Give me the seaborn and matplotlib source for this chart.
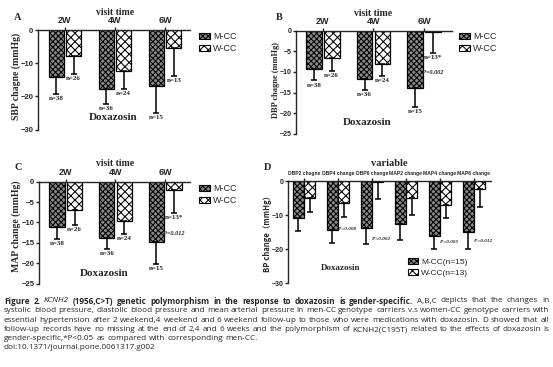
import numpy as np
import pandas as pd
import seaborn as sns
import matplotlib.pyplot as plt
from matplotlib.patches import Patch

# values (mmHg), error = length of the downward bar
weeks = ['2W', '4W', '6W']
groups = ['M-CC', 'W-CC']

sbp_m = [-14.3, -17.7, -16.8]
sbp_m_err = [4.9, 4.5, 8.2]
sbp_w = [-7.7, -12.5, -5.5]
sbp_w_err = [5.6, 5.2, 8.5]

dbp_m = [-9.3, -11.8, -13.8]
dbp_m_err = [2.7, 2.6, 4.6]
dbp_w = [-6.7, -8.2, -0.25]
dbp_w_err = [3.0, 2.8, 5.05]

map_m = [-11.0, -13.9, -14.9]
map_m_err = [3.0, 2.6, 5.2]
map_w = [-6.9, -9.6, -2.0]
map_w_err = [3.6, 3.1, 5.6]

n_m = ['n=38', 'n=36', 'n=15']
n_w = ['n=26', 'n=24', 'n=13']
n_w_star = ['n=26', 'n=24', 'n=13*']

vars_d = ['DBP2 chagne', 'DBP4 change', 'DBP6 change', 'MAP2 change', 'MAP4 change', 'MAP6 change']
d_m = [-10.75, -14.4, -13.9, -12.7, -16.1, -14.9]
d_m_err = [3.95, 3.9, 4.7, 4.6, 3.9, 5.1]
d_w = [-5.1, -6.5, -0.4, -5.1, -7.0, -2.2]
d_w_err = [4.1, 4.0, 4.9, 4.9, 3.9, 5.5]
d_p = ['', 'P=0.008', 'P=0.002', '', 'P=0.005', 'P=0.012']
d_p_y = [0, -14.1, -17.1, 0, -17.8, -17.5]

sns.set_style('ticks')
plt.rcParams['font.family'] = ['Liberation Serif', 'DejaVu Serif']
plt.rcParams['hatch.linewidth'] = 0.75
plt.rcParams['axes.linewidth'] = 1.0

W, H = 553, 367
fig = plt.figure(figsize=(W / 100, H / 100), dpi=100)
SANS = 'Liberation Sans'
hatches = ['xxxxxx', 'xxxx']
colors = ['#8a8a8a', 'white']


def px(x, y):
    return x / W, 1 - y / H


def axes_px(l, t, r, b):
    return fig.add_axes([l / W, 1 - b / H, (r - l) / W, (b - t) / H])


def draw_bars(ax, cats, m, m_err, w, w_err, width, gap):
    df = pd.DataFrame({'cat': cats + cats,
                       'group': [groups[0]] * len(cats) + [groups[1]] * len(cats),
                       'change': m + w})
    sns.barplot(data=df, x='cat', y='change', hue='group', order=cats, hue_order=groups,
                palette=colors, width=width, gap=gap, errorbar=None,
                edgecolor='black', linewidth=0.9, legend=False, ax=ax)
    centers = []
    for cont, hatch, vals, errs in zip(ax.containers, hatches, [m, w], [m_err, w_err]):
        xs = []
        for bar in cont:
            bar.set_hatch(hatch)
            xs.append(bar.get_x() + bar.get_width() / 2)
        ax.errorbar(xs, vals, yerr=[errs, np.zeros(len(errs))], fmt='none', ecolor='black',
                    elinewidth=1.1, capsize=2.5, capthick=1.1, zorder=1)
        centers.append(xs)
    return centers


def style_axes(ax, ylim, yticks, xlim, xsize=6.5, ysize=5.5):
    ax.set_ylim(*ylim)
    ax.set_yticks(yticks)
    ax.set_xlim(*xlim)
    ax.xaxis.tick_top()
    ax.spines['bottom'].set_visible(False)
    ax.spines['right'].set_visible(False)
    ax.tick_params(axis='both', width=1, length=2.5, pad=0.8)
    ax.set_xlabel('')
    ax.set_ylabel('')
    for lbl in ax.get_yticklabels():
        lbl.set_fontfamily(SANS)
        lbl.set_fontweight('bold')
        lbl.set_fontsize(ysize)
    for lbl in ax.get_xticklabels():
        lbl.set_fontfamily(SANS)
        lbl.set_fontweight('bold')
        lbl.set_fontsize(xsize)


def add_legend(ax, labels, x, y, size=6.5):
    handles = [Patch(facecolor=c, edgecolor='black', hatch=h, linewidth=0.8)
               for c, h in zip(colors, hatches)]
    ax.legend(handles, labels, loc='upper left', bbox_to_anchor=px(x, y),
              bbox_transform=fig.transFigure, frameon=False, borderpad=0,
              borderaxespad=0, handlelength=1.2, handleheight=0.7, handletextpad=0.4,
              labelspacing=0.35, prop={'family': SANS, 'size': size})


def ftext(x, y, s, size=7.5, **kw):
    fig.text(*px(x, y), s, fontsize=size, fontweight='bold', ha='center', va='center', **kw)


def n_labels(ax, centers, m, m_err, w, w_err, lab_m, lab_w):
    for xs, vals, errs, labs in zip(centers, [m, w], [m_err, w_err], [lab_m, lab_w]):
        for x, v, e, s in zip(xs, vals, errs, labs):
            ax.text(x, v - e - 0.6, s, ha='center', va='top', fontsize=5, fontweight='bold')


# A: SBP
axA = axes_px(38, 30, 190, 129.5)
cA = draw_bars(axA, weeks, sbp_m, sbp_m_err, sbp_w, sbp_w_err, 0.7, 0.12)
style_axes(axA, (-30, 0), [0, -10, -20, -30], (-0.54, 2.5))
n_labels(axA, cA, sbp_m, sbp_m_err, sbp_w, sbp_w_err, n_m, n_w)
add_legend(axA, groups, 199, 32)
ftext(18, 18, 'A', 7.5)
ftext(115, 12.5, 'visit time', 7)
ftext(113, 118, 'Doxazosin', 8)
ftext(16, 76, 'SBP chagne (mmHg)', 7, rotation=90)

# B: DBP
axB = axes_px(296, 30.7, 452, 133.7)
cB = draw_bars(axB, weeks, dbp_m, dbp_m_err, dbp_w, dbp_w_err, 0.7, 0.12)
style_axes(axB, (-25, 0), [0, -5, -10, -15, -20, -25], (-0.53, 2.55), ysize=5)
n_labels(axB, cB, dbp_m, dbp_m_err, dbp_w, dbp_w_err, n_m, n_w_star)
axB.text(cB[1][2], -10.2, 'P=0.002', ha='center', va='center', fontsize=4.5,
         fontweight='bold', fontstyle='italic')
add_legend(axB, groups, 459, 32)
ftext(279, 18, 'B', 7.5)
ftext(373, 13, 'visit time', 7)
ftext(367, 123, 'Doxazosin', 8)
ftext(275.5, 80, 'DBP chagne (mmHg)', 6, rotation=90)

# C: MAP
axC = axes_px(39, 181.7, 190, 283.7)
cC = draw_bars(axC, weeks, map_m, map_m_err, map_w, map_w_err, 0.7, 0.12)
style_axes(axC, (-25, 0), [0, -5, -10, -15, -20, -25], (-0.54, 2.5))
n_labels(axC, cC, map_m, map_m_err, map_w, map_w_err, n_m, n_w_star)
axC.text(cC[1][2], -12.8, 'P=0.012', ha='center', va='center', fontsize=4.5,
         fontweight='bold', fontstyle='italic')
add_legend(axC, groups, 199, 184)
ftext(18, 168, 'C', 7.5)
ftext(115, 164, 'visit time', 7)
ftext(104, 273, 'Doxazosin', 8)
ftext(16, 226, 'MAP change (mmHg)', 7, rotation=90)

# D: 6-week summary
axD = axes_px(288, 181, 491, 283.3)
cD = draw_bars(axD, vars_d, d_m, d_m_err, d_w, d_w_err, 0.65, 0.08)
style_axes(axD, (-30, 0), [0, -10, -20, -30], (-0.47, 5.5), xsize=3.6, ysize=5)
for bar, s, y in zip(axD.containers[0], d_p, d_p_y):
    if s:
        axD.text(bar.get_x() + bar.get_width() + 0.02, y, s, ha='left', va='center',
                 fontsize=3.8, fontweight='bold', fontstyle='italic')
add_legend(axD, ['M-CC(n=15)', 'W-CC(n=13)'], 408, 258, size=6)
ftext(268, 168, 'D', 7.5)
ftext(389, 164, 'variable')
ftext(341, 268, 'Doxazosin', 6.5)
ftext(267, 232, 'BP change（mmHg）', 5.5,
      rotation=90, family=['Noto Sans CJK SC', 'Liberation Serif'])

# caption, set word by word so the first lines are justified
renderer = fig.canvas.get_renderer()
CAP_FS = 5.9
CAP_FONT = 'Open Sans'


def put_line(words, y, justify=True):
    texts = []
    for s, wt, st in words:
        texts.append(fig.text(0, 1 - y / H, s, fontsize=CAP_FS, fontweight=wt, fontstyle=st,
                              family=CAP_FONT, ha='left', va='center'))
    widths = [t.get_window_extent(renderer).width for t in texts]
    if justify and len(texts) > 1:
        gap = (549 - 4 - sum(widths)) / (len(texts) - 1)
    else:
        gap = CAP_FS * 0.4
    x = 4
    for t, wd in zip(texts, widths):
        t.set_x(x / W)
        x += wd + gap


def words(s, wt='normal', st='normal'):
    return [(w, wt, st) for w in s.split()]


line1 = (words('Figure 2.', 'bold') + words('KCNH2', 'normal', 'italic')
         + words('(1956,C>T) genetic polymorphism in the response to doxazosin is gender-specific.', 'bold')
         + words('A,B,C depicts that the changes in'))
line2 = words('systolic blood pressure, diastolic blood pressure and mean arterial pressure in men-CC genotype carriers v.s women-CC genotype carriers with')
line3 = words('essential hypertension after 2 weekend,4 weekend and 6 weekend follow-up to those who were medications with doxazosin. D showed that all')
line4 = words('follow-up records have no missing at the end of 2,4 and 6 weeks and the polymorphism of KCNH2(C195T) related to the effects of doxazosin is')
line5 = words('gender-specific,*P<0.05 as compared with corresponding men-CC.')
line6 = words('doi:10.1371/journal.pone.0061317.g002')

for ln, y, just in zip([line1, line2, line3, line4, line5, line6],
                       [301, 311, 320.3, 329.7, 338.7, 347.3],
                       [True, True, True, True, False, False]):
    put_line(ln, y, just)

fig.savefig('out.png', dpi=100)
